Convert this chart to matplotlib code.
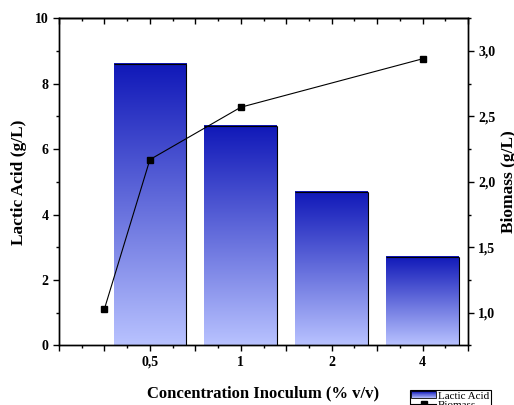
import matplotlib
matplotlib.use("Agg")
import matplotlib.pyplot as plt
import numpy as np
from matplotlib.colors import LinearSegmentedColormap
from matplotlib.legend_handler import HandlerBase
from matplotlib.patches import Rectangle
from matplotlib.lines import Line2D
from matplotlib.ticker import FuncFormatter, MultipleLocator

# data
bar_pos = [2, 4, 6, 8]
lactic_acid = [8.59, 6.70, 4.70, 2.69]
tick_labels = ["0,5", "1", "2", "4"]
biomass_pos = [1, 2, 4, 8]
biomass = [1.03, 2.17, 2.57, 2.94]

DARK = "#1018b8"
LIGHT = "#b8c2ff"
BAR_W = 1.6

plt.rcParams["font.family"] = ["Liberation Serif", "DejaVu Serif"]
plt.rcParams["axes.linewidth"] = 1.0

cmap = LinearSegmentedColormap.from_list("grad", [LIGHT, DARK])


class GradientHandler(HandlerBase):
    def create_artists(self, legend, orig_handle, xdescent, ydescent,
                       width, height, fontsize, trans):
        arts = []
        n = 20
        for i in range(n):
            r = Rectangle((-xdescent, -ydescent + height * i / n), width, height / n,
                          facecolor=cmap(i / (n - 1)), edgecolor="none",
                          transform=trans)
            arts.append(r)
        arts.append(Rectangle((-xdescent, -ydescent), width, height,
                              facecolor="none", edgecolor="black", lw=0.6,
                              transform=trans))
        return arts


fig = plt.figure(figsize=(5.14, 4.05), dpi=100)
ax = fig.add_axes([0.1148, 0.147, 0.7957, 0.808])

grad = np.linspace(0, 1, 256).reshape(-1, 1)
for x, h in zip(bar_pos, lactic_acid):
    ax.imshow(grad, cmap=cmap, origin="lower", aspect="auto",
              extent=(x - BAR_W / 2, x + BAR_W / 2, 0, h), zorder=1)
    ax.hlines(h, x - BAR_W / 2, x + BAR_W / 2, color="black", lw=0.8, zorder=2)
    ax.vlines(x + BAR_W / 2, 0, h, color="black", lw=0.8, zorder=2)

ax.set_xlim(0, 9)
ax.set_ylim(0, 10)
ax.xaxis.set_major_locator(MultipleLocator(1))
ax.xaxis.set_minor_locator(MultipleLocator(0.5))
ax.yaxis.set_major_locator(MultipleLocator(2))
ax.yaxis.set_minor_locator(MultipleLocator(1))
lab_map = dict(zip(bar_pos, tick_labels))
ax.xaxis.set_major_formatter(FuncFormatter(lambda v, p: lab_map.get(int(round(v)), "")))
ax.tick_params(axis="x", which="both", direction="out", bottom=True, top=False)
ax.tick_params(which="major", length=4, width=1.0, labelsize=10)
ax.tick_params(which="minor", length=2.5, width=1.0)
for t in ax.get_xticklabels() + ax.get_yticklabels():
    t.set_fontweight("bold")

# inward ticks on the top spine
top = ax.secondary_xaxis("top")
top.xaxis.set_major_locator(MultipleLocator(1))
top.xaxis.set_minor_locator(MultipleLocator(0.5))
top.tick_params(which="both", direction="in", labeltop=False)
top.tick_params(which="major", length=4, width=1.0)
top.tick_params(which="minor", length=2.5, width=1.0)

ax.set_xlabel("Concentration Inoculum (% v/v)", fontsize=12, fontweight="bold", labelpad=12)
ax.set_ylabel("Lactic Acid (g/L)", fontsize=12.5, fontweight="bold", labelpad=6)

ax2 = ax.twinx()
ax2.plot(biomass_pos, biomass, color="black", lw=0.8, marker="s",
         markersize=5, markerfacecolor="black")
ax2.set_ylim(0.75, 3.25)
ax2.yaxis.set_major_locator(MultipleLocator(0.5))
ax2.yaxis.set_minor_locator(MultipleLocator(0.25))
ax2.yaxis.set_major_formatter(FuncFormatter(lambda v, p: f"{v:.1f}".replace(".", ",")))
ax2.tick_params(which="major", length=4, width=1.0, labelsize=10)
ax2.tick_params(which="minor", length=2.5, width=1.0)
for t in ax2.get_yticklabels():
    t.set_fontweight("bold")
ax2.set_ylabel("Biomass (g/L)", fontsize=12.5, fontweight="bold", labelpad=4)

handles = [Rectangle((0, 0), 1, 1),
           Line2D([], [], color="black", lw=0.8, marker="s", markersize=4)]
fig.legend(handles, ["Lactic Acid", "Biomass"],
           handler_map={Rectangle: GradientHandler()},
           loc="upper left", bbox_to_anchor=(0.797, 0.038),
           fontsize=8, frameon=True, fancybox=False, edgecolor="black",
           framealpha=1, borderpad=0.15, handlelength=2.2, handletextpad=0.2,
           handleheight=0.6, labelspacing=0.0, borderaxespad=0)
fig.legends[0].get_frame().set_linewidth(0.8)

fig.savefig("out.png", dpi=100)
